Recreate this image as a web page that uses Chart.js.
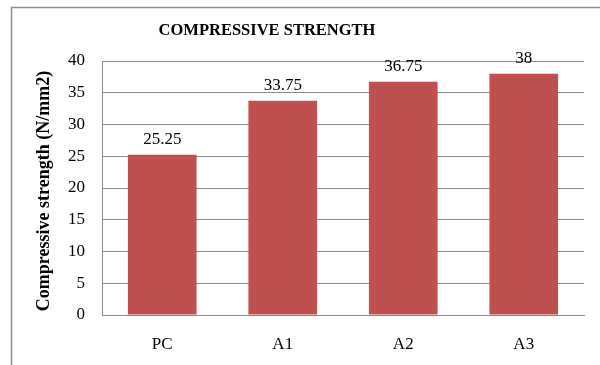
<!DOCTYPE html>
<html>
<head>
<meta charset="utf-8">
<script src="https://cdn.jsdelivr.net/npm/chart.js@4/dist/chart.umd.min.js"></script>
<style>
html,body{margin:0;padding:0;background:#fff;}
#wrap{position:relative;width:600px;height:365px;}
</style>
</head>
<body>
<div id="wrap"><canvas id="c" width="600" height="365"></canvas></div>
<script>
const categories = ["PC", "A1", "A2", "A3"];
const strengthValues = [25.25, 33.75, 36.75, 38];
const yTicks = [0, 5, 10, 15, 20, 25, 30, 35, 40];
const chartTitle = "COMPRESSIVE STRENGTH";
const yAxisTitle = "Compressive strength (N/mm2)";

const SERIF = "'Liberation Serif', 'Times New Roman', serif";
Chart.defaults.font.family = SERIF;
Chart.defaults.color = '#000';

const framePlugin = {
  id: 'frame',
  beforeDraw(chart) {
    const ctx = chart.ctx;
    ctx.save();
    ctx.strokeStyle = '#8c8c8c';
    ctx.lineWidth = 1.5;
    ctx.beginPath();
    ctx.moveTo(11.5, 365);
    ctx.lineTo(11.5, 7.5);
    ctx.lineTo(600, 7.5);
    ctx.stroke();
    ctx.restore();
  },
  afterDraw(chart) {
    const ctx = chart.ctx;
    ctx.save();
    ctx.fillStyle = '#000';
    ctx.textAlign = 'center';
    ctx.textBaseline = 'middle';
    ctx.font = 'bold 16.5px ' + SERIF;
    ctx.fillText(chartTitle, 267, 31);
    ctx.translate(44, 191);
    ctx.rotate(-Math.PI / 2);
    ctx.font = 'bold 18px ' + SERIF;
    ctx.fillText(yAxisTitle, 0, 0);
    ctx.restore();
  }
};

const labelPlugin = {
  id: 'valueLabels',
  afterDatasetsDraw(chart) {
    const ctx = chart.ctx;
    const meta = chart.getDatasetMeta(0);
    ctx.save();
    ctx.fillStyle = '#000';
    ctx.font = '17px ' + SERIF;
    ctx.textAlign = 'center';
    ctx.textBaseline = 'middle';
    meta.data.forEach((bar, i) => {
      ctx.fillText(String(strengthValues[i]), bar.x, bar.y - 15);
    });
    ctx.restore();
  }
};

new Chart(document.getElementById('c'), {
  type: 'bar',
  data: {
    labels: categories,
    datasets: [{
      data: strengthValues,
      backgroundColor: '#C0504D',
      borderWidth: 0,
      categoryPercentage: 1,
      barPercentage: 0.57
    }]
  },
  options: {
    responsive: false,
    animation: false,
    devicePixelRatio: 1,
    layout: { padding: { top: 61, right: 16, left: 0, bottom: 0 } },
    plugins: {
      legend: { display: false },
      title: { display: false },
      tooltip: { enabled: false }
    },
    scales: {
      x: {
        grid: { display: false, drawTicks: false },
        border: { color: '#8c8c8c', width: 1 },
        ticks: { color: '#000', font: { family: SERIF, size: 17 }, padding: 19 },
        afterFit(s) { s.height = 50; }
      },
      y: {
        min: 0,
        max: 40,
        afterBuildTicks(s) { s.ticks = yTicks.map(v => ({ value: v })); },
        grid: { color: '#8c8c8c', lineWidth: 1, drawTicks: false },
        border: { color: '#8c8c8c', width: 1 },
        ticks: { color: '#000', font: { family: SERIF, size: 17 }, padding: 17 },
        afterFit(s) { s.width = 102; }
      }
    }
  },
  plugins: [framePlugin, labelPlugin]
});
</script>
</body>
</html>
